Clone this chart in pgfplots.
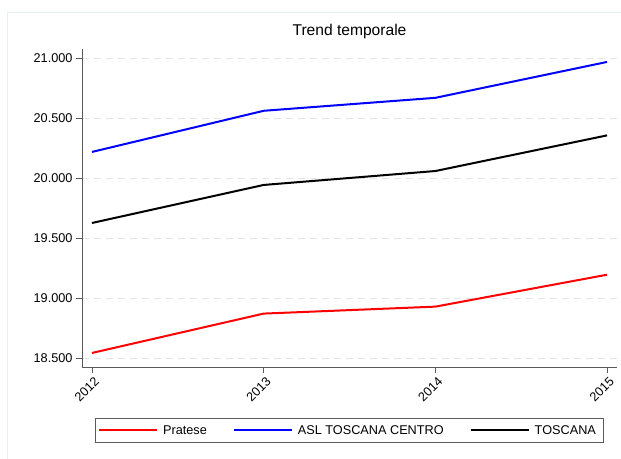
\documentclass[border=0pt]{standalone}
\usepackage{fontspec}
\setmainfont{Liberation Sans}
\usepackage{pgfplots}
\pgfplotsset{compat=1.18}
\definecolor{framec}{HTML}{E6EFF1}
\definecolor{gridc}{HTML}{E6E6E6}
\definecolor{axc}{HTML}{5A5A5A}
\definecolor{sblue}{HTML}{0000FF}
\definecolor{sred}{HTML}{FF0000}
\begin{document}
\begin{tikzpicture}[x=1bp,y=1bp]
\useasboundingbox (0,0) rectangle (621,459);
\fill[white] (0,0) rectangle (621,459);
\draw[framec, line width=0.8bp] (7,0) -- (7,447) -- (621,447);
\begin{axis}[
  at={(82bp,92bp)}, anchor=south west,
  scale only axis, width=535bp, height=318bp,
  font=\fontsize{12.7bp}{15bp}\selectfont,
  title={Trend temporale},
  title style={font=\fontsize{15.6bp}{18bp}\selectfont, at={(0.5,1)}, anchor=center, yshift=12bp},
  axis x line*=bottom, axis y line*=left,
  x axis line style={-, axc, line width=0.9bp},
  y axis line style={-, axc, line width=0.9bp},
  xmin=2011.942, xmax=2015.058,
  ymin=18425, ymax=21075,
  xtick={2012,2013,2014,2015},
  ytick={18500,19000,19500,20000,20500,21000},
  scaled y ticks=false,
  /pgf/number format/assume math mode=true,
  yticklabel style={/pgf/number format/.cd, fixed, precision=0, 1000 sep={.}},
  xticklabel style={/pgf/number format/1000 sep={}, rotate=45, anchor=east, inner sep=1bp, yshift=-8bp, xshift=0bp},
  tick align=outside, major tick length=6bp,
  tick style={axc, line width=0.9bp},
  ymajorgrids, grid style={gridc, dash pattern=on 7bp off 5bp, line width=0.9bp},
  legend columns=3,
  legend style={at={(0.5,0)}, anchor=center, yshift=-63.5bp,
    draw=axc, line width=0.9bp, inner xsep=3bp, inner ysep=5bp,
    font=\fontsize{12.7bp}{15bp}\selectfont,
    /tikz/every even column/.append style={column sep=21bp},
    nodes={inner xsep=5bp}},
  legend image code/.code={\draw[#1, line width=2bp] (0bp,0bp) -- (58bp,0bp);},
  every axis plot/.append style={line width=2bp},
]
\addplot[sred] coordinates {(2012,18542) (2013,18870) (2014,18928) (2015,19194)};
\addlegendentry{Pratese}
\addplot[sblue] coordinates {(2012,20217) (2013,20560) (2014,20668) (2015,20967)};
\addlegendentry{ASL TOSCANA CENTRO}
\addplot[black] coordinates {(2012,19625) (2013,19942) (2014,20058) (2015,20355)};
\addlegendentry{TOSCANA}
\end{axis}
\end{tikzpicture}
\end{document}
